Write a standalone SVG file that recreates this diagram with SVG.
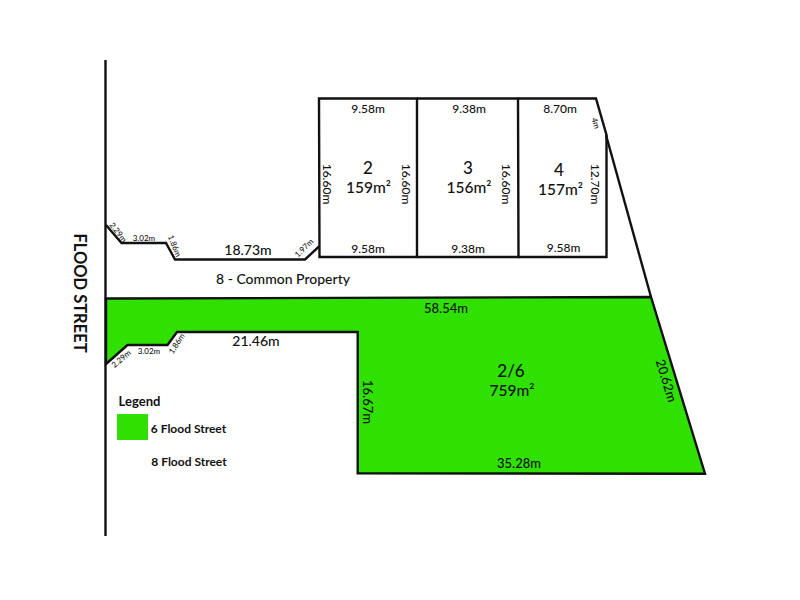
<svg xmlns="http://www.w3.org/2000/svg" width="800" height="600" viewBox="0 0 800 600">
<style>
text{font-family:"Lato","Liberation Sans",sans-serif;fill:#111;text-anchor:middle;font-weight:500}
.b{fill:none;stroke:#111;stroke-width:2.4;stroke-linejoin:miter}
.m{font-size:12px}.w{font-size:13px}.l{font-size:14px}.xs{font-size:8px}.t{font-size:17px}.a{font-size:15.500px}
.g{font-size:12px;font-weight:700}
</style>
<rect width="800" height="600" fill="#fff"/>
<g id="lot-2-6">
<path d="M106 298.500L651 297L705 473.700L357.700 473.300V332H177L167.500 345H127.500L106 364Z" fill="#2fe000" stroke="#111" stroke-width="2.400"/>
<text class="t" x="511" y="377">2/6</text><text class="a" x="512" y="396">759m²</text>
<text class="w" x="446" y="313">58.54m</text>
<text class="w" x="519" y="468">35.28m</text>
<text class="w" transform="translate(363 402) rotate(90)">16.67m</text>
<text class="w" transform="translate(662 382) rotate(73)">20.62m</text>
<text class="l" x="256" y="346">21.46m</text>
<text class="xs" transform="translate(123 361) rotate(-41)">2.29m</text>
<text class="xs" x="149" y="354">3.02m</text>
<text class="xs" transform="translate(179 345) rotate(-57)">1.86m</text>
</g>
<g id="lot-2">
<path class="b" d="M319 98.500H417V257H319.500Z"/>
<text class="t" x="368" y="174">2</text><text class="a" x="368.500" y="193">159m²</text>
<text class="m" x="368" y="113">9.58m</text><text class="m" x="368" y="253">9.58m</text>
<text class="m" transform="translate(323 184) rotate(90)">16.60m</text>
<text class="m" transform="translate(402 184) rotate(90)">16.60m</text>
</g>
<g id="lot-3">
<path class="b" d="M417 98.500H518L518.500 257H417"/>
<text class="t" x="468" y="174">3</text><text class="a" x="469" y="193">156m²</text>
<text class="m" x="469" y="113">9.38m</text><text class="m" x="468" y="253">9.38m</text>
<text class="m" transform="translate(502 184) rotate(90)">16.60m</text>
</g>
<g id="lot-4">
<path class="b" d="M518 98.500H596L606.500 135V257H518.500"/>
<text class="t" x="559" y="176">4</text><text class="a" x="560.500" y="195">157m²</text>
<text class="m" x="560" y="113">8.70m</text><text class="m" x="563.500" y="252">9.58m</text>
<text class="xs" transform="translate(593 124) rotate(72)">4m</text>
<text class="m" transform="translate(591 184) rotate(90)">12.70m</text>
</g>
<g id="common-property">
<text class="l" x="283" y="284">8 - Common Property</text>
<text class="l" x="248" y="255">18.73m</text>
<text class="xs" transform="translate(116 234) rotate(52)">2.29m</text>
<text class="xs" x="144" y="241">3.02m</text>
<text class="xs" transform="translate(172 247) rotate(68)">1.86m</text>
<text class="xs" transform="translate(306 250) rotate(-45)">1.97m</text>
</g>
<g id="legend">
<text class="w" x="139.500" y="406" style="font-weight:700">Legend</text>
<rect x="117" y="414" width="31" height="26" fill="#2fe000"/>
<text class="g" x="188.500" y="433">6 Flood Street</text>
<text class="g" x="189" y="466">8 Flood Street</text>
</g>
<g id="flood-street">
<text transform="translate(74 293) rotate(90)" style="font-size:16.500px;font-weight:700">FLOOD STREET</text>
</g>
<g id="connectors">
<path class="b" d="M105.500 60V536"/>
<path class="b" d="M106 225L121.500 243H166L175 259.500H305L319 246.500"/>
<path class="b" d="M606 135L651 297"/>
</g>
</svg>
